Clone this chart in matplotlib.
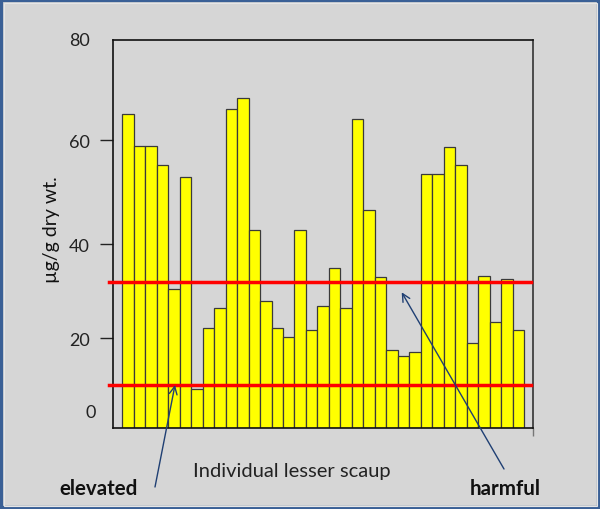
import numpy as np
import matplotlib
matplotlib.use("Agg")
import matplotlib.pyplot as plt
from matplotlib.patches import Rectangle
import matplotlib.transforms as mtransforms

# ---- data ----
birds = list(range(1, 36))
selenium = [65.2, 58.8, 58.8, 55.1, 30.5, 52.9, 8.7, 22.1, 26.3, 66.2,
            68.3, 42.6, 27.9, 22.1, 20.3, 42.6, 21.7, 26.8, 34.8, 26.3,
            64.1, 46.6, 33.0, 17.4, 16.1, 17.0, 53.5, 53.5, 58.6, 55.1,
            19.0, 33.1, 23.5, 32.6, 21.6]
elevated_level = 9.6
harmful_level = 31.9
ytick_values = [20, 40, 60]
ytick_labels = ["20", "40", "60"]

# the drawn axis is not evenly spaced: knot values and their drawn heights
axis_values = [0, 20, 40, 60, 80]
axis_heights = [0, 90, 184, 288, 388.3]

plt.rcParams['font.family'] = ['Lato', 'DejaVu Sans']

BG = '#d6d6d6'
fig = plt.figure(figsize=(6, 5.1), dpi=100, facecolor=BG)
ax = fig.add_axes([112.7 / 600, 81 / 510, 420 / 600, 388.3 / 510])
ax.set_facecolor(BG)


def fwd(v):
    return np.interp(v, axis_values, axis_heights)


def inv(p):
    return np.interp(p, axis_heights, axis_values)


ax.set_yscale('function', functions=(fwd, inv))

x = np.arange(len(selenium))
ax.bar(x, selenium, width=1.0, color='#ffff00', edgecolor='#3a3a3a',
       linewidth=0.9, zorder=2)

ax.set_ylim(0, 80)
ax.set_xlim(-1.34, 35.26)

for lvl in (harmful_level, elevated_level):
    ax.axhline(lvl, xmin=-0.008, xmax=0.9967, color='#ff0000', lw=2.5,
               clip_on=False, zorder=3)

for s in ax.spines.values():
    s.set_color('#111111')
    s.set_linewidth(1.2)
ax.spines['right'].set_color('#333333')

ax.set_yticks(ytick_values)
ax.set_yticklabels(ytick_labels)
ax.yaxis.set_minor_locator(matplotlib.ticker.NullLocator())
ax.tick_params(axis='y', direction='out', length=9.4, width=1.0,
               pad=7, labelsize=13, colors='#222222')
ax.set_xticks([35.26])
ax.set_xticklabels([''])
ax.tick_params(axis='x', direction='out', length=6, width=1.0,
               colors='#777777')

# 80 and 0 labels (no tick marks)
off = mtransforms.offset_copy(ax.transAxes, fig=fig, x=-22.7, y=0, units='dots')
ax.text(0, 1.0, "80", transform=off, ha='right', va='center',
        fontsize=13, color='#222222')
off0 = mtransforms.offset_copy(ax.transAxes, fig=fig, x=-17, y=0, units='dots')
ax.text(0, 0.042, "0", transform=off0, ha='right', va='center',
        fontsize=13, color='#222222')

fig.text(52 / 600, 1 - 230 / 510, "µg/g dry wt.", rotation=90,
         ha='center', va='center', fontsize=14, color='#111111')
fig.text(292 / 600, 38 / 510, "Individual lesser scaup", ha='center',
         va='center', fontsize=14.5, color='#222222')
fig.text(99 / 600, 21 / 510, "elevated", ha='center', va='center',
         fontsize=14.8, fontweight='bold', color='#111111')
fig.text(505 / 600, 21 / 510, "harmful", ha='center', va='center',
         fontsize=14.8, fontweight='bold', color='#111111')

arrow_kw = dict(arrowstyle='->', color='#1f3f73', lw=1.0,
                mutation_scale=14, shrinkA=0, shrinkB=0)
ax.annotate("", xy=(175, 510 - 386), xycoords='figure pixels',
            xytext=(155, 510 - 488), textcoords='figure pixels',
            arrowprops=arrow_kw, annotation_clip=False, zorder=5)
ax.annotate("", xy=(401.7, 510 - 293.3), xycoords='figure pixels',
            xytext=(504, 510 - 470), textcoords='figure pixels',
            arrowprops=arrow_kw, annotation_clip=False, zorder=5)

# frame
fig.patches.append(Rectangle((0, 0), 1, 1, transform=fig.transFigure,
                             fill=False, edgecolor='#3a6096', linewidth=4.5,
                             zorder=10))
fig.patches.append(Rectangle((3.5 / 600, 3.5 / 510), 593 / 600, 503 / 510,
                             transform=fig.transFigure, fill=False,
                             edgecolor='#e6e6e6', linewidth=0.8, zorder=10))

fig.savefig("out.png", dpi=100, facecolor=BG)
